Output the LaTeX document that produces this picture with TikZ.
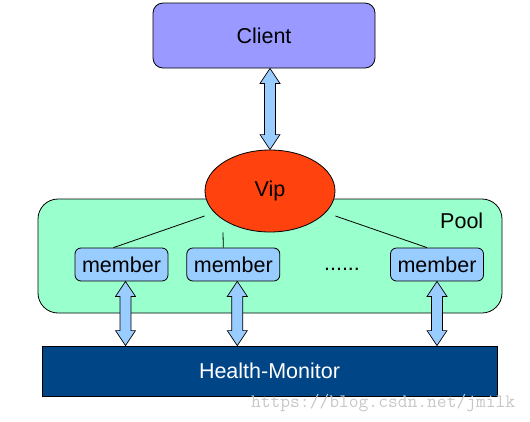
\documentclass[tikz,border=0pt]{standalone}
\usepackage{fontspec}
\setmainfont{Liberation Sans}
\usepackage{tikz}
\usetikzlibrary{positioning, calc, shapes.geometric}

\definecolor{clientblue}{HTML}{9999FF}
\definecolor{vipred}{HTML}{FF420E}
\definecolor{poolgreen}{HTML}{99FFCC}
\definecolor{memberblue}{HTML}{99CCFF}
\definecolor{monitorblue}{HTML}{004586}

% fat double arrow between two points (vertical)
\newcommand{\fatarrow}[2]{%
	\draw[fatarrow] (#1) -- ++(10,15) -- ++(-4.5,0) -- ($(#2)+(5.5,-15)$) -- ++(4.5,0) -- (#2)
	-- ++(-10,-15) -- ++(4.5,0) -- ($(#1)+(-5.5,15)$) -- ++(-4.5,0) -- cycle;}

\begin{document}
\begin{tikzpicture}[x=1pt, y=-1pt, line width=0.8pt, every node/.style={font=\fontsize{21.5}{25}\selectfont},
	box/.style={draw, rounded corners=10pt, inner sep=0pt},
	member/.style={draw, rounded corners=6pt, fill=memberblue, minimum width=93pt, minimum height=33pt, inner sep=0pt},
	fatarrow/.style={draw=black, fill=memberblue, line width=0.7pt, line join=miter}]

	\useasboundingbox (0,0) rectangle (530,421);

	\node [box, fill=clientblue, minimum width=222pt, minimum height=65pt] (C) at (264,35.5) {Client};

	\node [box, rounded corners=20pt, fill=poolgreen, minimum width=464pt, minimum height=114pt] (pool) at (270,256) {};
	\node [anchor=base east] (P) at (487,228) {Pool};

	\node [member] (m1) at (121.5,264.5) {member};
	\node [member, right=18pt of m1] (m2) {member};
	\node [member] (m3) at (437,264.5) {member};
	\node (dots) at (342,269) {......};

	\node [draw, ellipse, fill=vipred, minimum width=130pt, minimum height=82pt, inner sep=0pt] (V) at (270,191) {Vip};

	\draw ($(V.west)+(0,25)$) -- ($(m1.north)+(-8,0)$);
	\draw ($(V.south)+(-47,0)$) -- ($(m2.north)+(-10,0)$);
	\draw ($(V.east)+(0,25)$) -- ($(m3.north)+(-10,0)$);

	\node [draw, fill=monitorblue, text=white, minimum width=455pt, minimum height=50pt, inner sep=0pt] (HM) at (269.5,371) {Health-Monitor};

	\path (V.north |- C.south) coordinate (c1);
	\fatarrow{c1}{V.north}
	\path ($(m1.south)+(4,0)$) coordinate (a1) (a1 |- HM.north) coordinate (b1);
	\path ($(m2.south)+(4,0)$) coordinate (a2) (a2 |- HM.north) coordinate (b2);
	\path (m3.south) coordinate (a3) (a3 |- HM.north) coordinate (b3);
	\fatarrow{a1}{b1}
	\fatarrow{a2}{b2}
	\fatarrow{a3}{b3}

	\node [font=\fontsize{19}{21}\selectfont\ttfamily, text=black!22, anchor=base east] (wm) at (519,407) {https://blog.csdn.net/jmilk};

\end{tikzpicture}
\end{document}
